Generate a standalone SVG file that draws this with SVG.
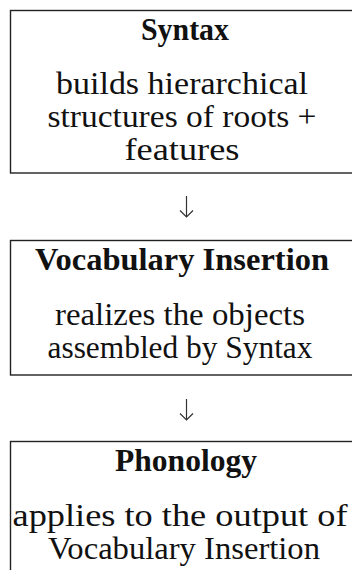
<svg xmlns="http://www.w3.org/2000/svg" width="352" height="570" viewBox="0 0 352 570">
<style>
.box{fill:#fff;stroke:#222;stroke-width:1.4}
.t{font-family:"Liberation Serif","Times New Roman",serif;font-size:31.5px;fill:#111;text-anchor:middle}
.b{font-weight:bold}
.c{stroke:#333;stroke-width:1.2;fill:none}
</style>
<rect width="352" height="570" fill="#fff"/>
<g id="syntax">
<rect class="box" x="10.5" y="10.5" width="355" height="162.5"/>
<text class="t b" x="185" y="40" textLength="88" lengthAdjust="spacingAndGlyphs">Syntax</text>
<text class="t" x="182" y="94" textLength="252" lengthAdjust="spacingAndGlyphs">builds hierarchical</text>
<text class="t" x="182" y="127" textLength="269" lengthAdjust="spacingAndGlyphs">structures of roots +</text>
<text class="t" x="182" y="160" textLength="115" lengthAdjust="spacingAndGlyphs">features</text>
</g>
<g id="vocabulary-insertion">
<rect class="box" x="10.5" y="240.5" width="355" height="134.5"/>
<text class="t b" x="182" y="270" textLength="294" lengthAdjust="spacingAndGlyphs">Vocabulary Insertion</text>
<text class="t" x="180" y="325" textLength="250" lengthAdjust="spacingAndGlyphs">realizes the objects</text>
<text class="t" x="180" y="358" textLength="265" lengthAdjust="spacingAndGlyphs">assembled by Syntax</text>
</g>
<g id="phonology">
<rect class="box" x="10.5" y="441.5" width="355" height="140"/>
<text class="t b" x="186" y="471" textLength="142" lengthAdjust="spacingAndGlyphs">Phonology</text>
<text class="t" x="180" y="526" textLength="335" lengthAdjust="spacingAndGlyphs">applies to the output of</text>
<text class="t" x="184" y="559" textLength="272" lengthAdjust="spacingAndGlyphs">Vocabulary Insertion</text>
</g>
<g id="connectors">
<line class="c" x1="186.5" y1="196" x2="186.5" y2="217"/>
<polyline class="c" points="180,210.5 186.5,217 193,210.5"/>
<line class="c" x1="186.5" y1="399" x2="186.5" y2="420"/>
<polyline class="c" points="180,413.5 186.5,420 193,413.5"/>
</g>
</svg>
